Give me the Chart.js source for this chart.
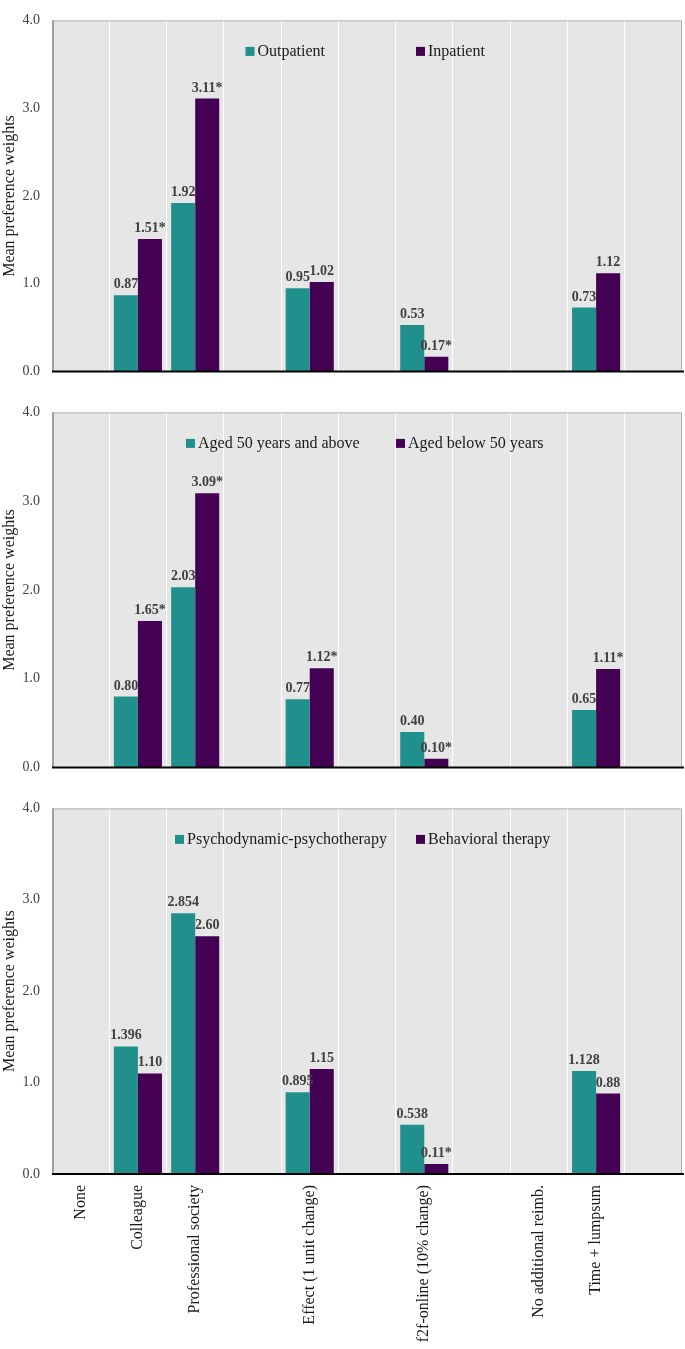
<!DOCTYPE html>
<html><head><meta charset="utf-8">
<script src="https://cdn.jsdelivr.net/npm/chart.js@4.4.0/dist/chart.umd.min.js"></script>
<style>
html,body{margin:0;padding:0;background:#fff;}
#wrap{position:relative;width:685px;height:1349px;overflow:hidden;}
canvas{position:absolute;left:0;}
</style></head><body>
<div id="wrap">
<canvas id="c1" width="685" height="392" style="top:0px"></canvas>
<canvas id="c2" width="685" height="396" style="top:392px"></canvas>
<canvas id="c3" width="685" height="561" style="top:788px"></canvas>
</div>
<script>
// ---------- data ----------
const categories = ["None","Colleague","Professional society","","Effect (1 unit change)","","f2f-online (10% change)","","No additional reimb.","Time + lumpsum",""];
const yTicks = [0,1,2,3,4];

const outpatient       = [null,0.87,1.92,null,0.95,null,0.53,null,null,0.73,null];
const inpatient        = [null,1.51,3.11,null,1.02,null,0.17,null,null,1.12,null];
const outpatientLabels = ["","0.87","1.92","","0.95","","0.53","","","0.73",""];
const inpatientLabels  = ["","1.51*","3.11*","","1.02","","0.17*","","","1.12",""];

const aged50plus        = [null,0.80,2.03,null,0.77,null,0.40,null,null,0.65,null];
const agedBelow50       = [null,1.65,3.09,null,1.12,null,0.10,null,null,1.11,null];
const aged50plusLabels  = ["","0.80","2.03","","0.77","","0.40","","","0.65",""];
const agedBelow50Labels = ["","1.65*","3.09*","","1.12*","","0.10*","","","1.11*",""];

const psychodynamic       = [null,1.396,2.854,null,0.895,null,0.538,null,null,1.128,null];
const behavioral          = [null,1.10,2.60,null,1.15,null,0.11,null,null,0.88,null];
const psychodynamicLabels = ["","1.396","2.854","","0.895","","0.538","","","1.128",""];
const behavioralLabels    = ["","1.10","2.60","","1.15","","0.11*","","","0.88",""];

// ---------- styling ----------
const SERIF = '"Liberation Serif","Times New Roman",serif';
Chart.defaults.font.family = SERIF;
const TEAL = '#21908C', PURPLE = '#440154', BG = '#E7E6E6';

const framePlugin = {
  id: 'frame',
  beforeDraw(chart) {
    const {ctx, chartArea: a} = chart;
    ctx.save(); ctx.fillStyle = BG;
    ctx.fillRect(a.left, a.top, a.right - a.left, a.bottom - a.top);
    ctx.restore();
  },
  afterDatasetsDraw(chart) {
    const {ctx, chartArea: a} = chart;
    ctx.save();
    ctx.strokeStyle = '#B0B0B0'; ctx.lineWidth = 1;
    ctx.beginPath();
    ctx.moveTo(a.right - 0.5, a.bottom); ctx.lineTo(a.right - 0.5, a.top + 0.5); ctx.lineTo(a.left, a.top + 0.5);
    ctx.stroke();
    ctx.strokeStyle = '#A0A0A0'; ctx.lineWidth = 2;
    ctx.beginPath(); ctx.moveTo(a.left + 1, a.top); ctx.lineTo(a.left + 1, a.bottom); ctx.stroke();
    ctx.strokeStyle = '#000'; ctx.lineWidth = 2;
    ctx.beginPath(); ctx.moveTo(a.left, a.bottom); ctx.lineTo(a.right + 2, a.bottom); ctx.stroke();
    ctx.restore();
  }
};

const valueLabelPlugin = {
  id: 'valueLabels',
  afterDatasetsDraw(chart) {
    const ctx = chart.ctx;
    ctx.save();
    ctx.font = 'bold 14px ' + SERIF;
    ctx.fillStyle = '#404040';
    ctx.textAlign = 'center'; ctx.textBaseline = 'alphabetic';
    chart.data.datasets.forEach((ds, i) => {
      const meta = chart.getDatasetMeta(i);
      meta.data.forEach((el, j) => {
        const t = ds.valueLabels[j];
        if (!t || ds.data[j] == null) return;
        ctx.fillText(t, el.x, el.y - 7);
      });
    });
    ctx.restore();
  }
};

const insideLegendPlugin = {
  id: 'insideLegend',
  afterDraw(chart, args, opts) {
    const ctx = chart.ctx, a = chart.chartArea;
    const yc = a.top + 31;
    ctx.save();
    ctx.font = '16px ' + SERIF;
    ctx.textAlign = 'left'; ctx.textBaseline = 'alphabetic';
    chart.data.datasets.forEach((ds, i) => {
      const x = opts.xs[i];
      ctx.fillStyle = ds.backgroundColor;
      ctx.fillRect(x, yc - 4.5, 9, 9);
      ctx.fillStyle = '#1a1a1a';
      ctx.fillText(ds.label, x + 12, yc + 5);
    });
    ctx.restore();
  }
};

function makeChart(id, names, seriesA, seriesB, labA, labB, legendXs, showX, topPad, xHeight) {
  return new Chart(document.getElementById(id), {
    type: 'bar',
    data: {
      labels: categories,
      datasets: [
        {label: names[0], data: seriesA, valueLabels: labA, backgroundColor: TEAL, borderWidth: 0},
        {label: names[1], data: seriesB, valueLabels: labB, backgroundColor: PURPLE, borderWidth: 0}
      ]
    },
    options: {
      responsive: false, animation: false,
      layout: {padding: {top: topPad, bottom: 0, left: 0, right: 3}},
      datasets: {bar: {categoryPercentage: 0.84, barPercentage: 1.0}},
      plugins: {
        legend: {display: false}, tooltip: {enabled: false},
        insideLegend: {xs: legendXs}
      },
      scales: {
        x: {
          type: 'category',
          grid: {display: true, color: '#FFFFFF', lineWidth: 1, drawTicks: false, offset: true},
          border: {display: false},
          ticks: {display: showX, autoSkip: false, minRotation: 90, maxRotation: 90, padding: 11,
                  font: {size: 16, family: SERIF}, color: '#1a1a1a'},
          afterFit(scale) { scale.height = xHeight; }
        },
        y: {
          min: 0, max: 4,
          grid: {display: false, drawTicks: false},
          border: {display: false},
          afterBuildTicks(scale) { scale.ticks = yTicks.map(v => ({value: v})); },
          ticks: {padding: 12, font: {size: 14, family: SERIF}, color: '#404040',
                  callback: v => Number(v).toFixed(1)},
          title: {display: true, text: 'Mean preference weights', color: '#1a1a1a',
                  font: {size: 16, family: SERIF}, padding: {top: 0, bottom: 0}},
          afterFit(scale) { scale.width = 52; }
        }
      }
    },
    plugins: [framePlugin, valueLabelPlugin, insideLegendPlugin]
  });
}

makeChart('c1', ['Outpatient','Inpatient'], outpatient, inpatient, outpatientLabels, inpatientLabels,
          [245.5, 416], false, 8, 8);
makeChart('c2', ['Aged 50 years and above','Aged below 50 years'], aged50plus, agedBelow50, aged50plusLabels, agedBelow50Labels,
          [186, 396], false, 11, 8);
makeChart('c3', ['Psychodynamic-psychotherapy','Behavioral therapy'], psychodynamic, behavioral, psychodynamicLabels, behavioralLabels,
          [175, 416], true, 9, 175);
</script>
</body></html>
